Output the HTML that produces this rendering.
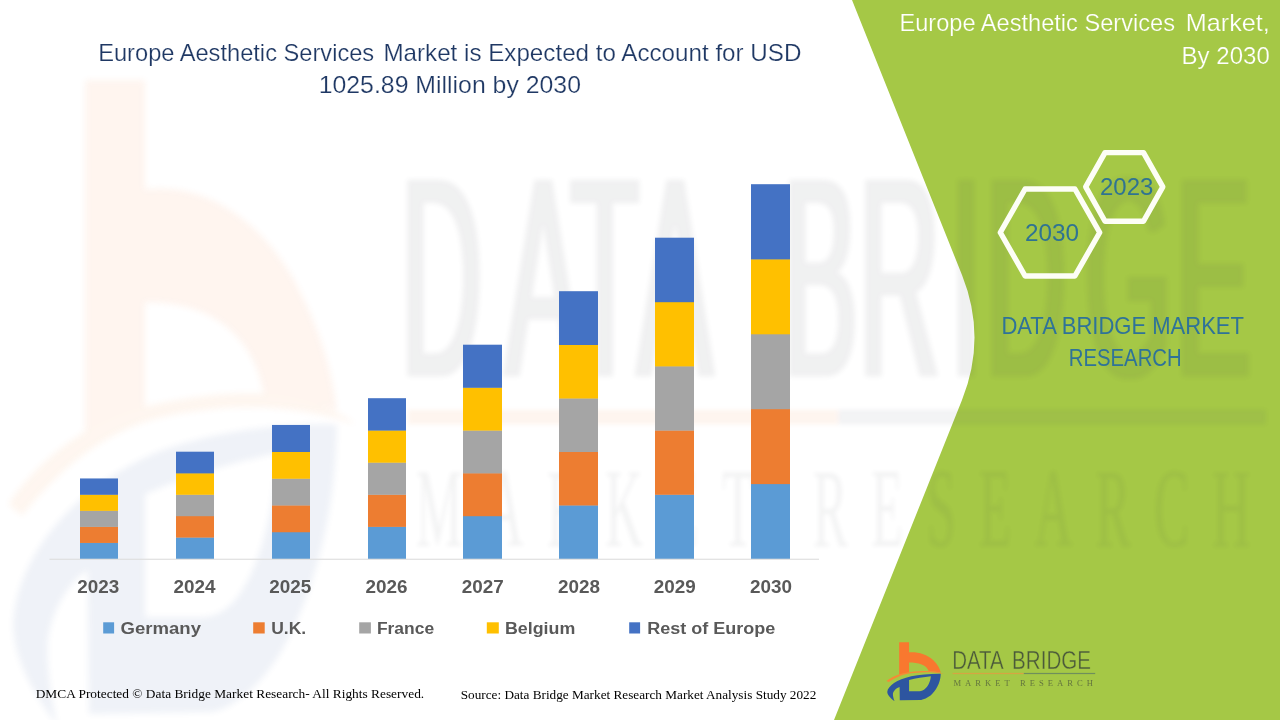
<!DOCTYPE html>
<html lang="en">
<head>
<meta charset="utf-8">
<title>Europe Aesthetic Services Market</title>
<style>
  html, body { margin: 0; padding: 0; background: #ffffff; }
  body { width: 1280px; height: 720px; overflow: hidden; position: relative; }
  svg { position: absolute; left: 0; top: 0; display: block; }
  .sans { font-family: "Liberation Sans", sans-serif; }
  .serif { font-family: "Liberation Serif", serif; }
  .title { fill: #1f3864; font-size: 24px; stroke: #ffffff; stroke-width: 0.22px; paint-order: fill stroke; }
  .rtitle { fill: #ffffff; font-size: 24px; stroke: #a5c846; stroke-width: 0.22px; paint-order: fill stroke; }
  .hexnum { fill: #2f7392; font-size: 24px; }
  .brand { fill: #2f7398; font-size: 23.7px; }
  .axis { fill: #595959; font-size: 18px; font-weight: bold; }
  .legend { fill: #595959; font-size: 17.4px; font-weight: bold; }
  .foot { fill: #000000; font-size: 13.33px; }
</style>
</head>
<body>
<svg width="1280" height="720" viewBox="0 0 1280 720">
  <defs>
    <filter id="soft" x="-5%" y="-5%" width="110%" height="110%"><feGaussianBlur stdDeviation="0.5 0.28"/></filter>
    <filter id="soft2" x="-5%" y="-5%" width="110%" height="110%"><feGaussianBlur stdDeviation="2.2"/></filter>
    <filter id="soft3" x="-5%" y="-5%" width="110%" height="110%"><feMorphology operator="dilate" radius="3 0.5"/><feGaussianBlur stdDeviation="2.6"/></filter>
  </defs>
  <rect x="0" y="0" width="1280" height="720" fill="#ffffff"/>

  <!-- ===== green panel ===== -->
  <path d="M852,0 L962,275 Q987,337.5 962,400 L834,720 L1280,720 L1280,0 Z" fill="#a5c846"/>

  <!-- ===== faint stretched logo watermark (over white and green) ===== -->
  <g opacity="0.075">
    <g transform="translate(86,80) scale(6.05,10.95) translate(-899.3,-642.3)" filter="url(#soft)">
      <g transform="translate(880,635) scale(0.1041667)">
        <path d="M184,70 L279,70 L279,166 C362,160 450,185 512,242 C552,282 576,322 583,360 C545,352 505,349 468,350 C463,322 438,298 400,283 C364,269 322,265 279,265 L279,360 C242,365 212,372 184,381 Z" fill="#f8782f"/>
        <path d="M62,442 C100,410 180,368 290,355 C350,348 400,345 430,345 C500,343 570,354 614,372 C560,362 500,356 430,357 C380,358 330,362 290,368 C200,382 130,420 84,452 Z" fill="#f68a35"/>
        <path fill-rule="evenodd" d="M140,636 C108,612 68,578 70,545 C76,490 160,428 300,396 C380,380 480,371 583,372 C583,430 560,505 500,566 C462,604 412,622 385,624 L190,626 L188,500 C160,508 122,540 124,572 C125,595 132,618 140,636 Z M279,433 C342,418 420,405 488,397 C485,448 460,500 422,526 C402,538 385,541 368,541 L279,541 Z" fill="#2d55a0"/>
      </g>
    </g>
    <g filter="url(#soft3)">
      <text class="sans" transform="scale(1.12,2.83)" x="358.1 451.5 509.4 569.3 665.2 699.1 767.0 848.6 880.0 968.5 1049.9" y="132.69" font-size="100" fill="#3c4048">DATA BRIDGE</text>
    </g>
    <g filter="url(#soft2)">
      <text class="serif" transform="scale(1,2.15)" x="416" y="253.95" font-size="52" fill="#3c4048" opacity="0.8" textLength="834" lengthAdjust="spacing">MARKET RESEARCH</text>
      <rect x="408" y="409.8" width="430" height="14.6" fill="#ee7d33"/>
      <rect x="838" y="409.8" width="428" height="14.6" fill="#4a5568" opacity="0.9"/>
    </g>
  </g>

  <!-- ===== main title ===== -->
  <g class="sans title">
    <text x="98.2" y="61.3" textLength="276" lengthAdjust="spacingAndGlyphs">Europe Aesthetic Services</text>
    <text x="383.4" y="61.3" textLength="418" lengthAdjust="spacingAndGlyphs">Market is Expected to Account for USD</text>
    <text x="318.7" y="92.6" textLength="262.3" lengthAdjust="spacingAndGlyphs">1025.89 Million by 2030</text>
  </g>

  <!-- ===== chart ===== -->
  <g id="bars">
    <rect x="80" y="542.65" width="38" height="16.35" fill="#5b9bd5"/>
    <rect x="80" y="526.60" width="38" height="16.35" fill="#ed7d31"/>
    <rect x="80" y="510.55" width="38" height="16.35" fill="#a5a5a5"/>
    <rect x="80" y="494.50" width="38" height="16.35" fill="#ffc000"/>
    <rect x="80" y="478.45" width="38" height="16.35" fill="#4472c4"/>
    <rect x="176" y="537.30" width="38" height="21.70" fill="#5b9bd5"/>
    <rect x="176" y="515.90" width="38" height="21.70" fill="#ed7d31"/>
    <rect x="176" y="494.50" width="38" height="21.70" fill="#a5a5a5"/>
    <rect x="176" y="473.10" width="38" height="21.70" fill="#ffc000"/>
    <rect x="176" y="451.70" width="38" height="21.70" fill="#4472c4"/>
    <rect x="272" y="531.95" width="38" height="27.05" fill="#5b9bd5"/>
    <rect x="272" y="505.20" width="38" height="27.05" fill="#ed7d31"/>
    <rect x="272" y="478.45" width="38" height="27.05" fill="#a5a5a5"/>
    <rect x="272" y="451.70" width="38" height="27.05" fill="#ffc000"/>
    <rect x="272" y="424.95" width="38" height="27.05" fill="#4472c4"/>
    <rect x="368" y="526.60" width="38" height="32.40" fill="#5b9bd5"/>
    <rect x="368" y="494.50" width="38" height="32.40" fill="#ed7d31"/>
    <rect x="368" y="462.40" width="38" height="32.40" fill="#a5a5a5"/>
    <rect x="368" y="430.30" width="38" height="32.40" fill="#ffc000"/>
    <rect x="368" y="398.20" width="38" height="32.40" fill="#4472c4"/>
    <rect x="463" y="515.90" width="39" height="43.10" fill="#5b9bd5"/>
    <rect x="463" y="473.10" width="39" height="43.10" fill="#ed7d31"/>
    <rect x="463" y="430.30" width="39" height="43.10" fill="#a5a5a5"/>
    <rect x="463" y="387.50" width="39" height="43.10" fill="#ffc000"/>
    <rect x="463" y="344.70" width="39" height="43.10" fill="#4472c4"/>
    <rect x="559" y="505.20" width="39" height="53.80" fill="#5b9bd5"/>
    <rect x="559" y="451.70" width="39" height="53.80" fill="#ed7d31"/>
    <rect x="559" y="398.20" width="39" height="53.80" fill="#a5a5a5"/>
    <rect x="559" y="344.70" width="39" height="53.80" fill="#ffc000"/>
    <rect x="559" y="291.20" width="39" height="53.80" fill="#4472c4"/>
    <rect x="655" y="494.50" width="39" height="64.50" fill="#5b9bd5"/>
    <rect x="655" y="430.30" width="39" height="64.50" fill="#ed7d31"/>
    <rect x="655" y="366.10" width="39" height="64.50" fill="#a5a5a5"/>
    <rect x="655" y="301.90" width="39" height="64.50" fill="#ffc000"/>
    <rect x="655" y="237.70" width="39" height="64.50" fill="#4472c4"/>
    <rect x="751" y="483.80" width="39" height="75.20" fill="#5b9bd5"/>
    <rect x="751" y="408.90" width="39" height="75.20" fill="#ed7d31"/>
    <rect x="751" y="334.00" width="39" height="75.20" fill="#a5a5a5"/>
    <rect x="751" y="259.10" width="39" height="75.20" fill="#ffc000"/>
    <rect x="751" y="184.20" width="39" height="75.20" fill="#4472c4"/>
  </g>
  <rect x="49.5" y="558.7" width="769.5" height="1.1" fill="#dcdcdc"/>

  <g class="sans axis" text-anchor="middle">
    <text x="98.2" y="592.5" textLength="42" lengthAdjust="spacingAndGlyphs">2023</text>
    <text x="194.4" y="592.5" textLength="42" lengthAdjust="spacingAndGlyphs">2024</text>
    <text x="290.3" y="592.5" textLength="42" lengthAdjust="spacingAndGlyphs">2025</text>
    <text x="386.4" y="592.5" textLength="42" lengthAdjust="spacingAndGlyphs">2026</text>
    <text x="482.8" y="592.5" textLength="42" lengthAdjust="spacingAndGlyphs">2027</text>
    <text x="578.9" y="592.5" textLength="42" lengthAdjust="spacingAndGlyphs">2028</text>
    <text x="674.8" y="592.5" textLength="42" lengthAdjust="spacingAndGlyphs">2029</text>
    <text x="771" y="592.5" textLength="42" lengthAdjust="spacingAndGlyphs">2030</text>
  </g>

  <!-- legend -->
  <g id="legend">
    <rect x="103.2" y="622.3" width="10.9" height="11.2" fill="#5b9bd5"/>
    <rect x="253.2" y="622.3" width="11.5" height="11.2" fill="#ed7d31"/>
    <rect x="359.2" y="622.3" width="11.7" height="11.2" fill="#a5a5a5"/>
    <rect x="486.8" y="622.3" width="12" height="11.2" fill="#ffc000"/>
    <rect x="629.2" y="622.3" width="10.9" height="11.2" fill="#4472c4"/>
    <g class="sans legend">
      <text x="120.6" y="633.8" textLength="80.4" lengthAdjust="spacingAndGlyphs">Germany</text>
      <text x="271.2" y="633.8" textLength="35" lengthAdjust="spacingAndGlyphs">U.K.</text>
      <text x="376.9" y="633.8" textLength="57.2" lengthAdjust="spacingAndGlyphs">France</text>
      <text x="505" y="633.8" textLength="70.3" lengthAdjust="spacingAndGlyphs">Belgium</text>
      <text x="647.2" y="633.8" textLength="128.1" lengthAdjust="spacingAndGlyphs">Rest of Europe</text>
    </g>
  </g>

  <!-- footer -->
  <g class="serif foot">
    <text x="35.7" y="698.2" textLength="388.5" lengthAdjust="spacingAndGlyphs">DMCA Protected © Data Bridge Market Research- All Rights Reserved.</text>
    <text x="460.7" y="698.9" textLength="355.6" lengthAdjust="spacingAndGlyphs">Source: Data Bridge Market Research Market Analysis Study 2022</text>
  </g>

  <!-- ===== right panel ===== -->
  <g class="sans rtitle">
    <text x="899.4" y="31.3" textLength="275.6" lengthAdjust="spacingAndGlyphs">Europe Aesthetic Services</text>
    <text x="1185.8" y="31.3" textLength="84" lengthAdjust="spacingAndGlyphs">Market,</text>
    <text x="1181.6" y="64" textLength="88.2" lengthAdjust="spacingAndGlyphs">By 2030</text>
  </g>

  <!-- hexagons -->
  <g fill="none" stroke="#fdfef6" stroke-width="5.4" stroke-linejoin="round">
    <polygon points="1000.3,232.5 1025.1,189 1074.9,189 1099.7,232.5 1074.9,276 1025.1,276"/>
    <polygon points="1085.7,186.9 1105,152.6 1143.5,152.6 1162.8,186.9 1143.5,221.2 1105,221.2"/>
  </g>
  <g class="sans hexnum">
    <text x="1025" y="240.6" textLength="54" lengthAdjust="spacingAndGlyphs">2030</text>
    <text x="1100" y="194.6" textLength="53.3" lengthAdjust="spacingAndGlyphs">2023</text>
  </g>

  <g class="sans brand">
    <text x="1001.4" y="333.7" textLength="242.6" lengthAdjust="spacingAndGlyphs">DATA BRIDGE MARKET</text>
    <text x="1068.7" y="365.9" textLength="113" lengthAdjust="spacingAndGlyphs">RESEARCH</text>
  </g>

  <!-- ===== logo ===== -->
  <g id="logo">
      <g transform="translate(880,635) scale(0.1041667)">
        <path d="M184,70 L279,70 L279,166 C362,160 450,185 512,242 C552,282 576,322 583,360 C545,352 505,349 468,350 C463,322 438,298 400,283 C364,269 322,265 279,265 L279,360 C242,365 212,372 184,381 Z" fill="#f8782f"/>
        <path d="M62,442 C100,410 180,368 290,355 C350,348 400,345 430,345 C500,343 570,354 614,372 C560,362 500,356 430,357 C380,358 330,362 290,368 C200,382 130,420 84,452 Z" fill="#f68a35"/>
        <path fill-rule="evenodd" d="M140,636 C108,612 68,578 70,545 C76,490 160,428 300,396 C380,380 480,371 583,372 C583,430 560,505 500,566 C462,604 412,622 385,624 L190,626 L188,500 C160,508 122,540 124,572 C125,595 132,618 140,636 Z M279,433 C342,418 420,405 488,397 C485,448 460,500 422,526 C402,538 385,541 368,541 L279,541 Z" fill="#2d55a0"/>
      </g>
      <text class="sans" y="669.4" font-size="25.7" fill="#4b5a3a" stroke="#a5c846" stroke-width="0.35" paint-order="fill stroke"><tspan x="952.2" textLength="50.4" lengthAdjust="spacingAndGlyphs">DATA</tspan> <tspan x="1012.1" textLength="78.9" lengthAdjust="spacingAndGlyphs">BRIDGE</tspan></text>
      <rect x="952.5" y="672.9" width="71.3" height="1.2" fill="#d6a542"/>
      <rect x="1023.8" y="672.9" width="71.4" height="1.2" fill="#6f8f5c"/>
      <text class="serif" x="953.4" y="686.1" font-size="8.6" fill="#64763e" textLength="139.6" lengthAdjust="spacing">MARKET RESEARCH</text>
  </g>
</svg>
</body>
</html>
